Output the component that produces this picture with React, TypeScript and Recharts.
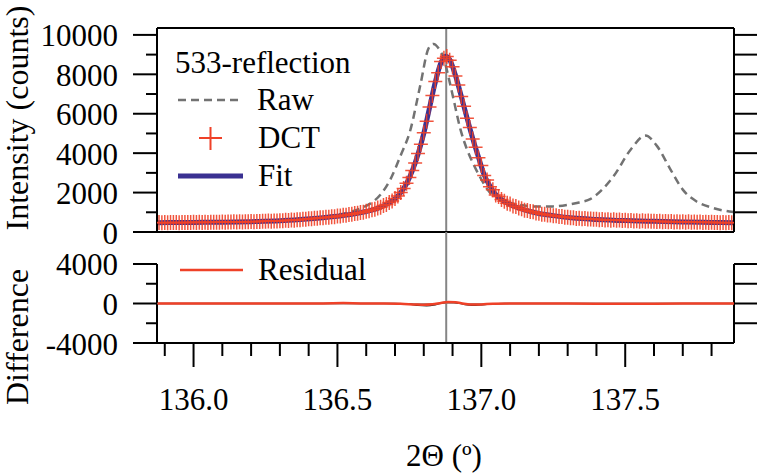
import React from "react";
import { ComposedChart, Line, Scatter, XAxis, YAxis, ReferenceLine } from "recharts";

const FONT = "'Liberation Serif', 'FreeSerif', serif";
const RED = "#ef4128";
const BLUE = "#3a3192";
const GRAY = "#727272";

const X_MIN = 135.873;
const X_MAX = 137.878;
const PEAK_POS = 136.878;
const INT_MAX = 10350;
const DIFF_MIN = -4000;
const DIFF_MAX = 7240;

const thetaTicks = [135.9, 136.0, 136.1, 136.2, 136.3, 136.4, 136.5, 136.6, 136.7, 136.8, 136.9, 137.0, 137.1, 137.2, 137.3, 137.4, 137.5, 137.6, 137.7, 137.8];
const intensityTicksLeft = [0, 1000, 2000, 3000, 4000, 5000, 6000, 7000, 8000, 9000, 10000];
const intensityTicksRight = [1000, 2000, 3000, 4000, 5000, 6000, 7000, 8000, 9000, 10000];
const diffTicksLeft = [-4000, -2000, 0, 2000, 4000];
const diffTicksRight = [-2000, 0, 2000, 4000];

// DCT (red crosses)
const dctTheta = [
  135.88, 135.89, 135.9, 135.91, 135.92, 135.93, 135.94, 135.95, 135.96, 135.97,
  135.98, 135.99, 136.0, 136.01, 136.02, 136.03, 136.04, 136.05, 136.06, 136.07,
  136.08, 136.09, 136.1, 136.11, 136.12, 136.13, 136.14, 136.15, 136.16, 136.17,
  136.18, 136.19, 136.2, 136.21, 136.22, 136.23, 136.24, 136.25, 136.26, 136.27,
  136.28, 136.29, 136.3, 136.31, 136.32, 136.33, 136.34, 136.35, 136.36, 136.37,
  136.38, 136.39, 136.4, 136.41, 136.42, 136.43, 136.44, 136.45, 136.46, 136.47,
  136.48, 136.49, 136.5, 136.51, 136.52, 136.53, 136.54, 136.55, 136.56, 136.57,
  136.58, 136.59, 136.6, 136.61, 136.62, 136.63, 136.64, 136.65, 136.66, 136.67,
  136.68, 136.69, 136.7, 136.71, 136.72, 136.73, 136.74, 136.75, 136.76, 136.77,
  136.78, 136.79, 136.8, 136.81, 136.82, 136.83, 136.84, 136.85, 136.86, 136.87,
  136.88, 136.89, 136.9, 136.91, 136.92, 136.93, 136.94, 136.95, 136.96, 136.97,
  136.98, 136.99, 137.0, 137.01, 137.02, 137.03, 137.04, 137.05, 137.06, 137.07,
  137.08, 137.09, 137.1, 137.11, 137.12, 137.13, 137.14, 137.15, 137.16, 137.17,
  137.18, 137.19, 137.2, 137.21, 137.22, 137.23, 137.24, 137.25, 137.26, 137.27,
  137.28, 137.29, 137.3, 137.31, 137.32, 137.33, 137.34, 137.35, 137.36, 137.37,
  137.38, 137.39, 137.4, 137.41, 137.42, 137.43, 137.44, 137.45, 137.46, 137.47,
  137.48, 137.49, 137.5, 137.51, 137.52, 137.53, 137.54, 137.55, 137.56, 137.57,
  137.58, 137.59, 137.6, 137.61, 137.62, 137.63, 137.64, 137.65, 137.66, 137.67,
  137.68, 137.69, 137.7, 137.71, 137.72, 137.73, 137.74, 137.75, 137.76, 137.77,
  137.78, 137.79, 137.8, 137.81, 137.82, 137.83, 137.84, 137.85, 137.86, 137.87,
];
const dctCounts = [
  478, 470, 482, 474, 481, 476, 483, 472, 485, 479,
  486, 480, 489, 482, 491, 484, 494, 488, 497, 490,
  500, 493, 503, 498, 508, 502, 514, 506, 519, 512,
  524, 517, 531, 526, 538, 532, 546, 540, 554, 548,
  562, 556, 570, 568, 590, 586, 605, 598, 625, 622,
  648, 646, 671, 668, 694, 695, 720, 722, 748, 751,
  778, 780, 812, 818, 850, 856, 889, 896, 935, 950,
  990, 1005, 1048, 1075, 1128, 1150, 1215, 1255, 1345, 1390,
  1500, 1575, 1700, 1830, 2010, 2210, 2470, 2760, 3120, 3500,
  3980, 4450, 5040, 5620, 6340, 6920, 7640, 8080, 8650, 8820,
  8900, 8720, 8380, 7920, 7460, 6870, 6380, 5770, 5300, 4720,
  4300, 3770, 3380, 2870, 2640, 2300, 2140, 1880, 1800, 1650,
  1565, 1462, 1418, 1318, 1290, 1212, 1185, 1108, 1095, 1035,
  1022, 965, 952, 906, 902, 864, 860, 822, 822, 787,
  786, 750, 752, 718, 719, 690, 700, 672, 682, 655,
  664, 642, 651, 624, 634, 612, 625, 601, 616, 592,
  604, 580, 594, 568, 584, 560, 574, 551, 566, 545,
  558, 540, 550, 530, 544, 522, 537, 516, 531, 510,
  525, 505, 518, 499, 514, 494, 508, 490, 503, 484,
  498, 479, 493, 476, 488, 471, 484, 468, 480, 466,
];

// Fit (blue)
const fitTheta = [
  135.875, 135.95, 136.0, 136.1, 136.2, 136.3, 136.37, 136.43, 136.49, 136.55,
  136.6, 136.64, 136.67, 136.7, 136.72, 136.74, 136.76, 136.78, 136.8, 136.82,
  136.84, 136.86, 136.875, 136.89, 136.91, 136.93, 136.95, 136.97, 136.99, 137.01,
  137.03, 137.05, 137.08, 137.11, 137.15, 137.2, 137.25, 137.32, 137.4, 137.5,
  137.6, 137.7, 137.8, 137.878,
];
const fitCounts = [
  475, 480, 485, 500, 525, 565, 630, 700, 785, 900,
  1040, 1200, 1400, 1680, 2000, 2450, 3100, 3950, 5000, 6300,
  7600, 8600, 8920, 8750, 7950, 6900, 5800, 4750, 3800, 2900,
  2330, 1900, 1550, 1330, 1120, 940, 830, 710, 640, 580,
  540, 510, 485, 470,
];

// Raw (grey dashed)
const rawTheta = [
  135.875, 136.0, 136.1, 136.2, 136.3, 136.4, 136.45, 136.5, 136.55, 136.6,
  136.625, 136.65, 136.684, 136.719, 136.753, 136.788, 136.817, 136.834, 136.85, 136.869,
  136.887, 136.904, 136.927, 136.95, 136.974, 137.0, 137.03, 137.06, 137.1, 137.15,
  137.2, 137.25, 137.3, 137.34, 137.38, 137.42, 137.46, 137.52, 137.57, 137.61,
  137.657, 137.7, 137.748, 137.806, 137.876,
];
const rawCounts = [
  470, 488, 503, 530, 578, 680, 760, 870, 1040, 1330,
  1550, 1900, 2670, 3860, 5150, 7450, 9330, 9540, 9350, 8820,
  7800, 6700, 5230, 4200, 3400, 2670, 2000, 1700, 1480, 1340,
  1290, 1300, 1380, 1500, 1680, 2150, 2840, 4200, 4890, 4370,
  3180, 2150, 1550, 1215, 1010,
];

// Residual (red) and underlying difference trace (black)
const residTheta = [
  135.875, 136.2, 136.45, 136.52, 136.58, 136.65, 136.72, 136.77, 136.8, 136.83,
  136.86, 136.885, 136.91, 136.94, 136.97, 137.0, 137.04, 137.1, 137.3, 137.5,
  137.7, 137.878,
];
const residCounts = [
  0, 0, 10, 40, 10, 0, -30, -100, -130, -80,
  60, 160, 120, -20, -110, -90, -20, 0, -10, -20,
  -10, 0,
];
const diffTheta = [135.875, 136.7, 136.75, 136.78, 136.81, 136.84, 136.87, 136.89, 136.92, 136.95, 136.98, 137.02, 137.08, 137.878];
const diffCounts = [0, 0, -60, -190, -230, -120, 100, 170, 60, -120, -170, -80, 0, 0];

const zip = (ts: number[], vs: number[]) => ts.map((t, i) => ({ t, v: vs[i] }));
const dctData = zip(dctTheta, dctCounts);
const fitData = zip(fitTheta, fitCounts);
const rawData = zip(rawTheta, rawCounts);
const residData = zip(residTheta, residCounts);
const diffData = zip(diffTheta, diffCounts);

const isMajor = (v: number) => Math.abs(v * 2 - Math.round(v * 2)) < 1e-6;

const CSS = `
#root, #root svg, #root svg text, #root svg tspan, #root .serif-t {
  font-family: 'Liberation Serif', 'FreeSerif', serif !important;
}
`;

const T = (p: { x: number; y: number; size?: number; anchor?: "start" | "middle" | "end"; rotate?: boolean; children: React.ReactNode }) => (
  <text
    className="serif-t"
    x={p.x}
    y={p.y}
    fontSize={p.size ?? 31}
    fontFamily={FONT}
    fill="#000"
    textAnchor={p.anchor ?? "start"}
    transform={p.rotate ? `rotate(-90 ${p.x} ${p.y})` : undefined}
    style={{ fontFamily: FONT }}
  >
    {p.children}
  </text>
);

const TopXTick = (props: any) => {
  const { x, y, payload } = props;
  const len = isMajor(payload.value) ? 24 : 13;
  return <line x1={x} x2={x} y1={y} y2={y - len} stroke="#000" strokeWidth={2} />;
};

const BottomXTick = (props: any) => {
  const { x, y, payload } = props;
  const major = isMajor(payload.value);
  return (
    <g>
      <line x1={x} x2={x} y1={y} y2={y + (major ? 24 : 13)} stroke="#000" strokeWidth={2} />
      {major && <T x={x} y={y + 67} anchor="middle">{payload.value.toFixed(1)}</T>}
    </g>
  );
};

const makeLeftYTick = (majorStep: number) => (props: any) => {
  const { x, y, payload } = props;
  const v = payload.value as number;
  const major = Math.abs(v % majorStep) < 1e-6;
  return (
    <g>
      <line x1={x} x2={x - (major ? 24 : 11)} y1={y} y2={y} stroke="#000" strokeWidth={2} />
      {major && <T x={x - 39} y={y + 11.5} anchor="end">{String(v)}</T>}
    </g>
  );
};
const LeftIntensityTick = makeLeftYTick(2000);
const LeftDiffTick = makeLeftYTick(4000);

const RightYTick = (props: any) => {
  const { x, y } = props;
  return <line x1={x} x2={x + 23} y1={y} y2={y} stroke="#000" strokeWidth={2} />;
};

const plusShape = (p: any) => (
  <path
    d={`M${p.cx - 7},${p.cy}H${p.cx + 7}M${p.cx},${p.cy - 7.5}V${p.cy + 7.5}`}
    stroke={RED}
    strokeWidth={1.5}
    strokeOpacity={0.9}
    fill="none"
  />
);

export default function App() {
  return (
    <div style={{ position: "absolute", left: 0, top: 0, width: 758, height: 475, background: "#fff", overflow: "hidden", fontFamily: FONT }}>
      <style>{CSS}</style>
      <div style={{ position: "absolute", left: 0, top: 0 }}>
        <ComposedChart width={758} height={250} margin={{ top: 0, right: 0, bottom: 0, left: 0 }}>
          <XAxis
            xAxisId="top"
            orientation="top"
            type="number"
            domain={[X_MIN, X_MAX]}
            allowDataOverflow
            ticks={thetaTicks}
            interval={0}
            height={28}
            tickSize={0}
            tickMargin={0}
            tickLine={false}
            tick={<TopXTick />}
            axisLine={{ stroke: "#000", strokeWidth: 2 }}
          />
          <XAxis
            dataKey="t"
            type="number"
            domain={[X_MIN, X_MAX]}
            allowDataOverflow
            height={18}
            tick={false}
            tickLine={false}
            axisLine={{ stroke: "#000", strokeWidth: 2 }}
          />
          <YAxis
            type="number"
            domain={[0, INT_MAX]}
            allowDataOverflow
            ticks={intensityTicksLeft}
            interval={0}
            width={157}
            tickSize={0}
            tickMargin={0}
            tickLine={false}
            tick={<LeftIntensityTick />}
            axisLine={{ stroke: "#000", strokeWidth: 2 }}
          />
          <YAxis
            yAxisId="r"
            orientation="right"
            type="number"
            domain={[0, INT_MAX]}
            allowDataOverflow
            ticks={intensityTicksRight}
            interval={0}
            width={24}
            tickSize={0}
            tickMargin={0}
            tickLine={false}
            tick={<RightYTick />}
            axisLine={{ stroke: "#000", strokeWidth: 2 }}
          />
          <ReferenceLine x={PEAK_POS} stroke="#858585" strokeWidth={2} />
          <Line data={rawData} dataKey="v" type="monotone" stroke={GRAY} strokeWidth={2.5} strokeDasharray="8 5" dot={false} isAnimationActive={false} />
          <Scatter data={dctData} dataKey="v" shape={plusShape} isAnimationActive={false} />
          <Line data={fitData} dataKey="v" type="monotone" stroke={BLUE} strokeWidth={5} dot={false} isAnimationActive={false} />
        </ComposedChart>
      </div>
      <div style={{ position: "absolute", left: 0, top: 232 }}>
        <ComposedChart width={758} height={243} margin={{ top: 0, right: 0, bottom: 0, left: 0 }}>
          <XAxis
            dataKey="t"
            type="number"
            domain={[X_MIN, X_MAX]}
            allowDataOverflow
            ticks={thetaTicks}
            interval={0}
            height={132}
            tickSize={0}
            tickMargin={0}
            tickLine={false}
            tick={<BottomXTick />}
            axisLine={{ stroke: "#000", strokeWidth: 2 }}
          />
          <YAxis
            type="number"
            domain={[DIFF_MIN, DIFF_MAX]}
            allowDataOverflow
            ticks={diffTicksLeft}
            interval={0}
            width={157}
            tickSize={0}
            tickMargin={0}
            tickLine={false}
            tick={<LeftDiffTick />}
            axisLine={false}
          />
          <YAxis
            yAxisId="r"
            orientation="right"
            type="number"
            domain={[DIFF_MIN, DIFF_MAX]}
            allowDataOverflow
            ticks={diffTicksRight}
            interval={0}
            width={24}
            tickSize={0}
            tickMargin={0}
            tickLine={false}
            tick={<RightYTick />}
            axisLine={false}
          />
          <ReferenceLine segment={[{ x: X_MIN, y: -4000 }, { x: X_MIN, y: 4000 }]} stroke="#000" strokeWidth={2} ifOverflow="visible" />
          <ReferenceLine segment={[{ x: X_MAX, y: -4000 }, { x: X_MAX, y: 4000 }]} stroke="#000" strokeWidth={2} ifOverflow="visible" />
          <ReferenceLine y={0} stroke="#9a9a9a" strokeWidth={1} />
          <ReferenceLine x={PEAK_POS} stroke="#858585" strokeWidth={2} />
          <Line data={diffData} dataKey="v" type="monotone" stroke="#222" strokeWidth={1.5} dot={false} isAnimationActive={false} />
          <Line data={residData} dataKey="v" type="monotone" stroke={RED} strokeWidth={2.5} dot={false} isAnimationActive={false} />
        </ComposedChart>
      </div>
      <svg width={758} height={475} style={{ position: "absolute", left: 0, top: 0, pointerEvents: "none" }}>
        <T x={28} y={118} size={32} anchor="middle" rotate>Intensity (counts)</T>
        <T x={28} y={337} size={32} anchor="middle" rotate>Difference</T>
        <T x={444} y={466} anchor="middle">2Θ (º)</T>
        <T x={175} y={73}>533-reflection</T>
        <T x={257} y={110}>Raw</T>
        <T x={258} y={148}>DCT</T>
        <T x={258} y={186}>Fit</T>
        <T x={258} y={280}>Residual</T>
        <line x1={178} x2={243} y1={100} y2={100} stroke={GRAY} strokeWidth={2.5} strokeDasharray="8 5" />
        <path d="M199,138H222M210.5,127V150" stroke={RED} strokeWidth={2} fill="none" />
        <line x1={178} x2={243} y1={176} y2={176} stroke={BLUE} strokeWidth={5} />
        <line x1={180} x2={243} y1={270} y2={270} stroke={RED} strokeWidth={2.5} />
      </svg>
    </div>
  );
}
